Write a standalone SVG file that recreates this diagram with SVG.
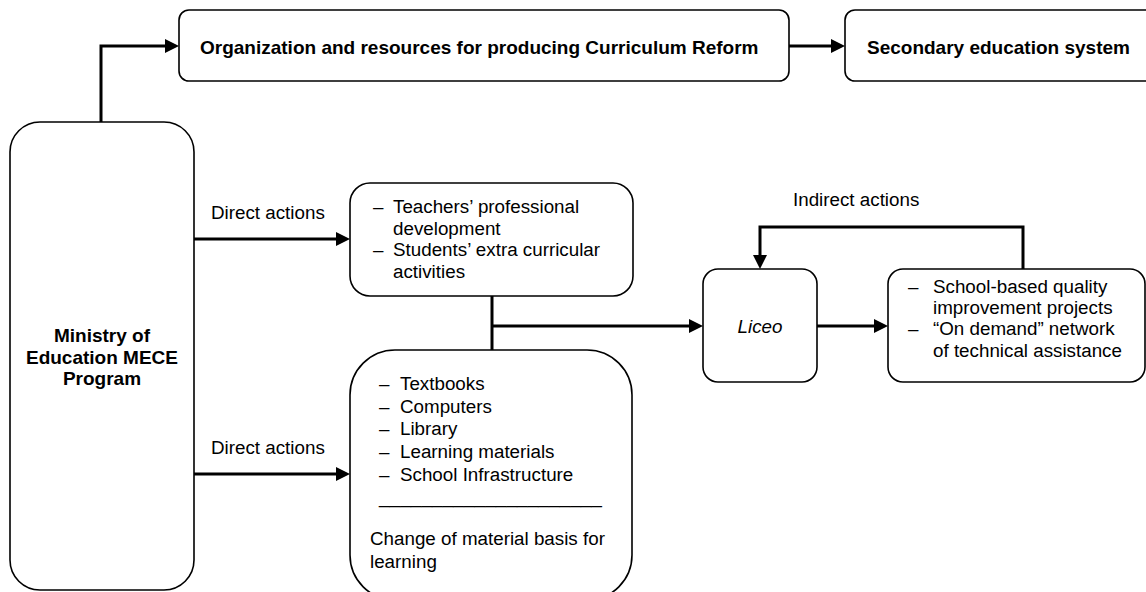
<svg xmlns="http://www.w3.org/2000/svg" width="1146" height="592" viewBox="0 0 1146 592">
<style>
.box{fill:#fff;stroke:#000;stroke-width:1.6}
.t{font-family:"Liberation Sans",Arial,sans-serif;font-size:18.8px;fill:#000}
.b{font-weight:bold;font-size:19px}
.i{font-style:italic}
.c{text-anchor:middle}
.con{fill:none;stroke:#000;stroke-width:3}
.arr{marker-end:url(#ah)}
</style>
<defs>
<marker id="ah" markerUnits="userSpaceOnUse" markerWidth="14" markerHeight="14" viewBox="0 0 14 14" refX="2" refY="7" orient="auto">
<path d="M0,0 L14,7 L0,14 z" fill="#000"/>
</marker>
</defs>
<rect width="1146" height="592" fill="#fff"/>

<g id="connectors">
<path class="con arr" d="M101,122 V46 H167"/>
<path class="con arr" d="M789,46 H833"/>
<path class="con arr" d="M194,239 H338"/>
<path class="con arr" d="M194,474 H338"/>
<path class="con" d="M492,296 V350"/>
<path class="con arr" d="M492,326 H691"/>
<path class="con arr" d="M817,326 H876"/>
<path class="con arr" d="M1023,269 V227 H760 V257"/>
</g>

<g id="labels">
<text class="t" x="211" y="219">Direct actions</text>
<text class="t" x="211" y="454">Direct actions</text>
<text class="t" x="793" y="206">Indirect actions</text>
</g>

<g id="org">
<rect class="box" x="179" y="10" width="610" height="71" rx="10"/>
<text class="t b" x="200" y="54">Organization and resources for producing Curriculum Reform</text>
</g>

<g id="secondary">
<rect class="box" x="845" y="10" width="320" height="71" rx="10"/>
<text class="t b" x="867" y="54">Secondary education system</text>
</g>

<g id="ministry">
<rect class="box" x="10" y="122" width="184" height="468" rx="30"/>
<text class="t b c" x="102" y="342">Ministry of</text>
<text class="t b c" x="102" y="363.5">Education MECE</text>
<text class="t b c" x="102" y="385">Program</text>
</g>

<g id="teachers">
<rect class="box" x="350" y="183" width="283" height="113" rx="20"/>
<text class="t" x="373" y="213">–</text>
<text class="t" x="393" y="213">Teachers’ professional</text>
<text class="t" x="393" y="234.5">development</text>
<text class="t" x="373" y="256">–</text>
<text class="t" x="393" y="256">Students’ extra curricular</text>
<text class="t" x="393" y="277.5">activities</text>
</g>

<g id="materials">
<rect class="box" x="350" y="350" width="282" height="250" rx="45"/>
<text class="t" x="379" y="390">–</text>
<text class="t" x="400" y="390">Textbooks</text>
<text class="t" x="379" y="412.7">–</text>
<text class="t" x="400" y="412.7">Computers</text>
<text class="t" x="379" y="435.4">–</text>
<text class="t" x="400" y="435.4">Library</text>
<text class="t" x="379" y="458">–</text>
<text class="t" x="400" y="458">Learning materials</text>
<text class="t" x="379" y="480.7">–</text>
<text class="t" x="400" y="480.7">School Infrastructure</text>
<text class="t" x="379" y="503" textLength="223" lengthAdjust="spacingAndGlyphs" fill="#555">_____________________</text>
<text class="t" x="370" y="545">Change of material basis for</text>
<text class="t" x="370" y="568">learning</text>
</g>

<g id="liceo">
<rect class="box" x="703" y="269" width="114" height="113" rx="15"/>
<text class="t i c" x="760" y="333">Liceo</text>
</g>

<g id="school">
<rect class="box" x="888" y="269" width="257" height="113" rx="15"/>
<text class="t" x="908" y="292.5">–</text>
<text class="t" x="933" y="292.5">School-based quality</text>
<text class="t" x="933" y="313.8">improvement projects</text>
<text class="t" x="908" y="335">–</text>
<text class="t" x="933" y="335">“On demand” network</text>
<text class="t" x="933" y="356.5">of technical assistance</text>
</g>
</svg>
